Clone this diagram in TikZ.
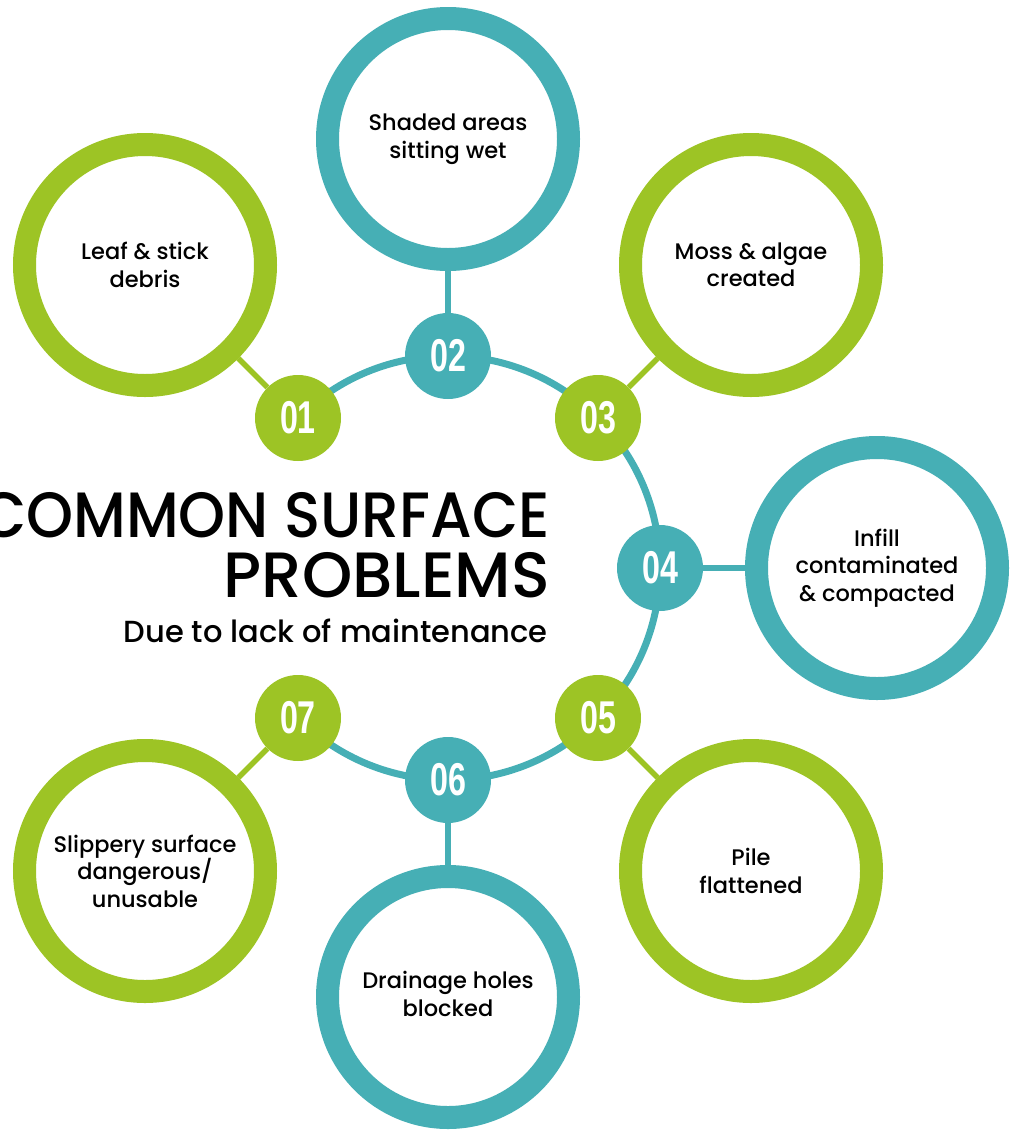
\documentclass[tikz,border=0pt]{standalone}
\usepackage{fontspec}
\usepackage{tikz, tkz-euclide}
\setmainfont{Poppins}[UprightFont={* Medium}]
\newfontfamily\numfont{Liberation Sans}
\definecolor{grass}{RGB}{157,196,37}
\definecolor{pool}{RGB}{70,175,181}
\newcommand{\tagno}[1]{\scalebox{0.7}[1]{#1}}
\tikzset{
    tag/.style={circle, fill=#1, minimum size=86pt, inner sep=0pt, text=white,
        font=\numfont\bfseries\fontsize{46}{46}\selectfont},
    ring/.style={circle, draw=#1, line width=23pt, fill=white, minimum size=241pt,
        inner sep=0pt, align=center, font=\fontsize{22.5}{27.5}\selectfont},
    stem/.style={draw=#1, line width=5.5pt},
    head/.style={anchor=base east, inner sep=0pt}
}

\begin{document}
\begin{tikzpicture}[x=1pt, y=-1pt]
    \useasboundingbox (0,0) rectangle (1018,1130);
    \tkzDefPoints{448/568/O, 298/418/A1, 448/356/A2, 598/418/A3, 660/568/A4,
        598/718/A5, 448/780/A6, 298/718/A7}
    \tkzDefPoints{145/265/B1, 448/139/B2, 751/265/B3, 877/568/B4,
        751/871/B5, 448/997/B6, 145/871/B7}
    \draw[pool, line width=7pt] (A1) arc[start angle=225, end angle=495, radius=212];

    \node[tag=grass] (n1) at (A1) {\tagno{01}};
    \node[tag=pool] (n2) at (A2) {\tagno{02}};
    \node[tag=grass] (n3) at (A3) {\tagno{03}};
    \node[tag=pool] (n4) at (A4) {\tagno{04}};
    \node[tag=grass] (n5) at (A5) {\tagno{05}};
    \node[tag=pool] (n6) at (A6) {\tagno{06}};
    \node[tag=grass] (n7) at (A7) {\tagno{07}};

    \node[ring=grass] (r1) at (B1) {Leaf \& stick\\debris};
    \node[ring=pool] (r2) at (B2) {Shaded areas\\sitting wet};
    \node[ring=grass] (r3) at (B3) {Moss \& algae\\created};
    \node[ring=pool] (r4) at (B4) {Infill\\contaminated\\\& compacted};
    \node[ring=grass] (r5) at (B5) {Pile\\flattened};
    \node[ring=pool] (r6) at (B6) {\raisebox{-8pt}{\begin{tabular}{@{}c@{}}Drainage holes\\blocked\end{tabular}}};
    \node[ring=grass] (r7) at (B7) {Slippery surface\\dangerous/\\unusable};

    \draw[stem=grass] (n1) -- (r1);
    \draw[stem=pool] (n2) -- (r2);
    \draw[stem=grass] (n3) -- (r3);
    \draw[stem=pool] (n4) -- (r4);
    \draw[stem=grass] (n5) -- (r5);
    \draw[stem=pool] (n6) -- (r6);
    \draw[stem=grass] (n7) -- (r7);

    \node[head, font=\fontsize{64}{64}\selectfont] (t1) at (550,537) {\scalebox{0.935}[1]{COMMON SURFACE}};
    \node[head, font=\fontsize{64}{64}\selectfont] (t2) at (550,597) {PROBLEMS};
    \node[head, font=\fontsize{30.5}{30.5}\selectfont] (t3) at (548,642) {Due to lack of maintenance};
\end{tikzpicture}
\end{document}
